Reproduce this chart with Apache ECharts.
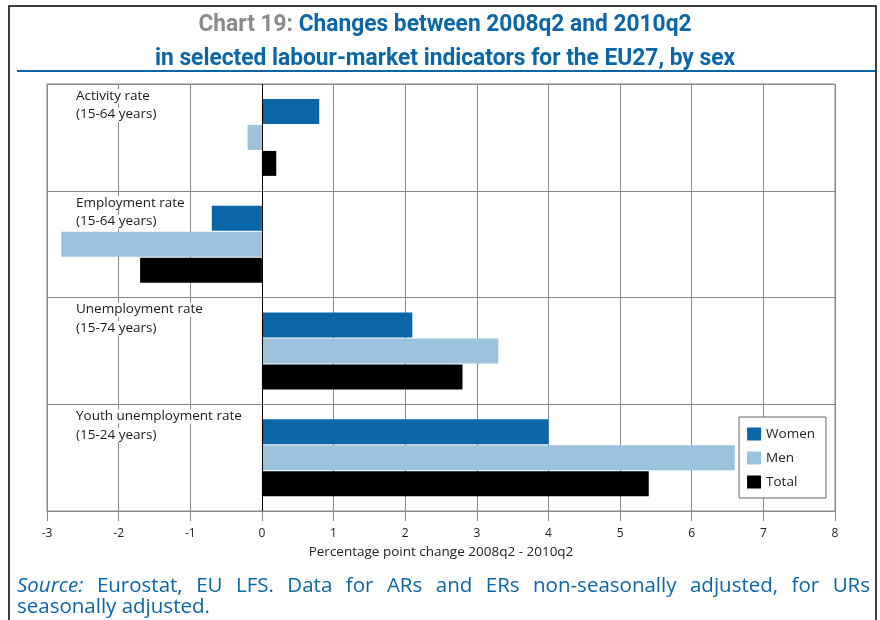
<!DOCTYPE html>
<html><head><meta charset="utf-8">
<script src="https://cdn.jsdelivr.net/npm/echarts@6/dist/echarts.min.js"></script>
<style>html,body{margin:0;padding:0;background:#fff}#c{width:880px;height:620px}</style>
</head><body><div id="c"></div>
<script>
// ---- data ----
const categories = ['Activity rate\n(15-64 years)', 'Employment rate\n(15-64 years)', 'Unemployment rate\n(15-74 years)', 'Youth unemployment rate\n(15-24 years)'];
const seriesNames = ['Women', 'Men', 'Total'];
const women = [0.8, -0.7, 2.1, 4.0];
const men = [-0.2, -2.8, 3.3, 6.6];
const total = [0.2, -1.7, 2.8, 5.4];
const xMin = -3, xMax = 8, xStep = 1;
const axisName = 'Percentage point change 2008q2 - 2010q2';
const titleGray = 'Chart 19: ';
const titleLine1 = 'Changes between 2008q2 and 2010q2';
const titleLine2 = 'in selected labour-market indicators for the EU27, by sex';
const sourceLine1 = ['Source:', 'Eurostat,', 'EU', 'LFS.', 'Data', 'for', 'ARs', 'and', 'ERs', 'non-seasonally', 'adjusted,', 'for', 'URs'];
const sourceLine2 = 'seasonally adjusted.';

const BLUE = '#0a66a6', LIGHT = '#9cc3dd', BLACK = '#000';
const FONT = "'Open Sans', 'Noto Sans', sans-serif";
const TFONT = "Roboto, 'Open Sans', sans-serif";

const cv = document.createElement('canvas').getContext('2d');
function measure(text, font) { cv.font = font; return cv.measureText(text).width; }

// title: horizontally condensed to match reference width
const tSize = 23;
const tFontStr = 'bold ' + tSize + 'px ' + TFONT;
const tScale = 580 / measure(titleLine2, tFontStr);

// justified source line
const srcSize = 20.5;
const srcFont = (it) => (it ? 'italic ' : '') + srcSize + "px 'Open Sans'";
const sx0 = 17, sx1 = 870;
const widths = sourceLine1.map((w, i) => measure(w, srcFont(i === 0)));
const sumW = widths.reduce((a, b) => a + b, 0);
const gap = (sx1 - sx0 - sumW) / (sourceLine1.length - 1);
const srcEls = [];
let cx = sx0;
sourceLine1.forEach((w, i) => {
  srcEls.push({ type: 'text', x: cx, y: 586, style: { text: w, fill: BLUE, font: srcFont(i === 0), verticalAlign: 'middle' } });
  cx += widths[i] + gap;
});
srcEls.push({ type: 'text', x: sx0, y: 607, style: { text: sourceLine2, fill: BLUE, font: srcFont(false), verticalAlign: 'middle' } });

const chart = echarts.init(document.getElementById('c'), null, { renderer: 'canvas' });
chart.setOption({
  animation: false,
  backgroundColor: '#fff',
  grid: { left: 47, right: 45, top: 84, bottom: 109, show: true, borderColor: '#888', borderWidth: 1 },
  legend: {
    data: seriesNames, orient: 'vertical', right: 54, top: 417,
    icon: 'rect', itemWidth: 14, itemHeight: 13, itemGap: 10,
    padding: [10, 11, 9, 8], borderColor: '#666', borderWidth: 1, backgroundColor: '#fff',
    textStyle: { fontFamily: FONT, fontSize: 13.5, color: '#222' }
  },
  xAxis: {
    type: 'value', min: xMin, max: xMax, interval: xStep,
    name: axisName, nameLocation: 'middle', nameGap: 33,
    nameTextStyle: { fontFamily: FONT, fontSize: 13.5, color: '#222' },
    axisLine: { show: true, lineStyle: { color: '#888' } },
    axisTick: { show: true, length: 10, lineStyle: { color: '#888' } },
    axisLabel: { fontFamily: FONT, fontSize: 12, color: '#222', margin: 17 },
    splitLine: { show: true, lineStyle: { color: '#888', width: 1 } }
  },
  yAxis: {
    type: 'category', inverse: true, data: categories, z: 3,
    axisLine: { show: false, onZero: false },
    axisTick: { show: false },
    splitLine: { show: true, lineStyle: { color: '#888', width: 1 } },
    axisLabel: {
      inside: true, margin: 28, align: 'left', verticalAlign: 'middle',
      padding: [0, 0, 64, 0],
      formatter: v => v.split('\n').map(s => '{a|' + s + '}').join('\n'),
      rich: { a: { fontFamily: FONT, fontSize: 13.5, color: '#1a1a1a', lineHeight: 18.5, backgroundColor: '#fff', padding: [0, 1] } }
    }
  },
  series: [
    { name: seriesNames[0], type: 'bar', data: women, barWidth: 25, barGap: '4%', itemStyle: { color: BLUE },
      markLine: { silent: true, symbol: 'none', label: { show: false }, lineStyle: { color: '#000', width: 1, type: 'solid' }, data: [{ xAxis: 0 }] } },
    { name: seriesNames[1], type: 'bar', data: men, barWidth: 25, barGap: '4%', itemStyle: { color: LIGHT } },
    { name: seriesNames[2], type: 'bar', data: total, barWidth: 25, barGap: '4%', itemStyle: { color: BLACK } }
  ],
  graphic: [
    { type: 'rect', shape: { x: 9, y: 6, width: 867, height: 640 }, style: { fill: 'none', stroke: '#000', lineWidth: 1.5 }, silent: true },
    { type: 'text', x: 445, y: 8, scaleX: tScale, style: {
        text: '{g|' + titleGray + '}{b|' + titleLine1 + '}\n{b|' + titleLine2 + '}',
        align: 'center', verticalAlign: 'top',
        rich: {
          g: { fontFamily: TFONT, fontWeight: 'bold', fontSize: tSize, fill: '#8a8a8a', lineHeight: 34 },
          b: { fontFamily: TFONT, fontWeight: 'bold', fontSize: tSize, fill: BLUE, lineHeight: 34 }
        } } },
    { type: 'line', shape: { x1: 17, y1: 71, x2: 875, y2: 71 }, style: { stroke: BLUE, lineWidth: 2 }, silent: true }
  ].concat(srcEls)
});
</script>
</body></html>
